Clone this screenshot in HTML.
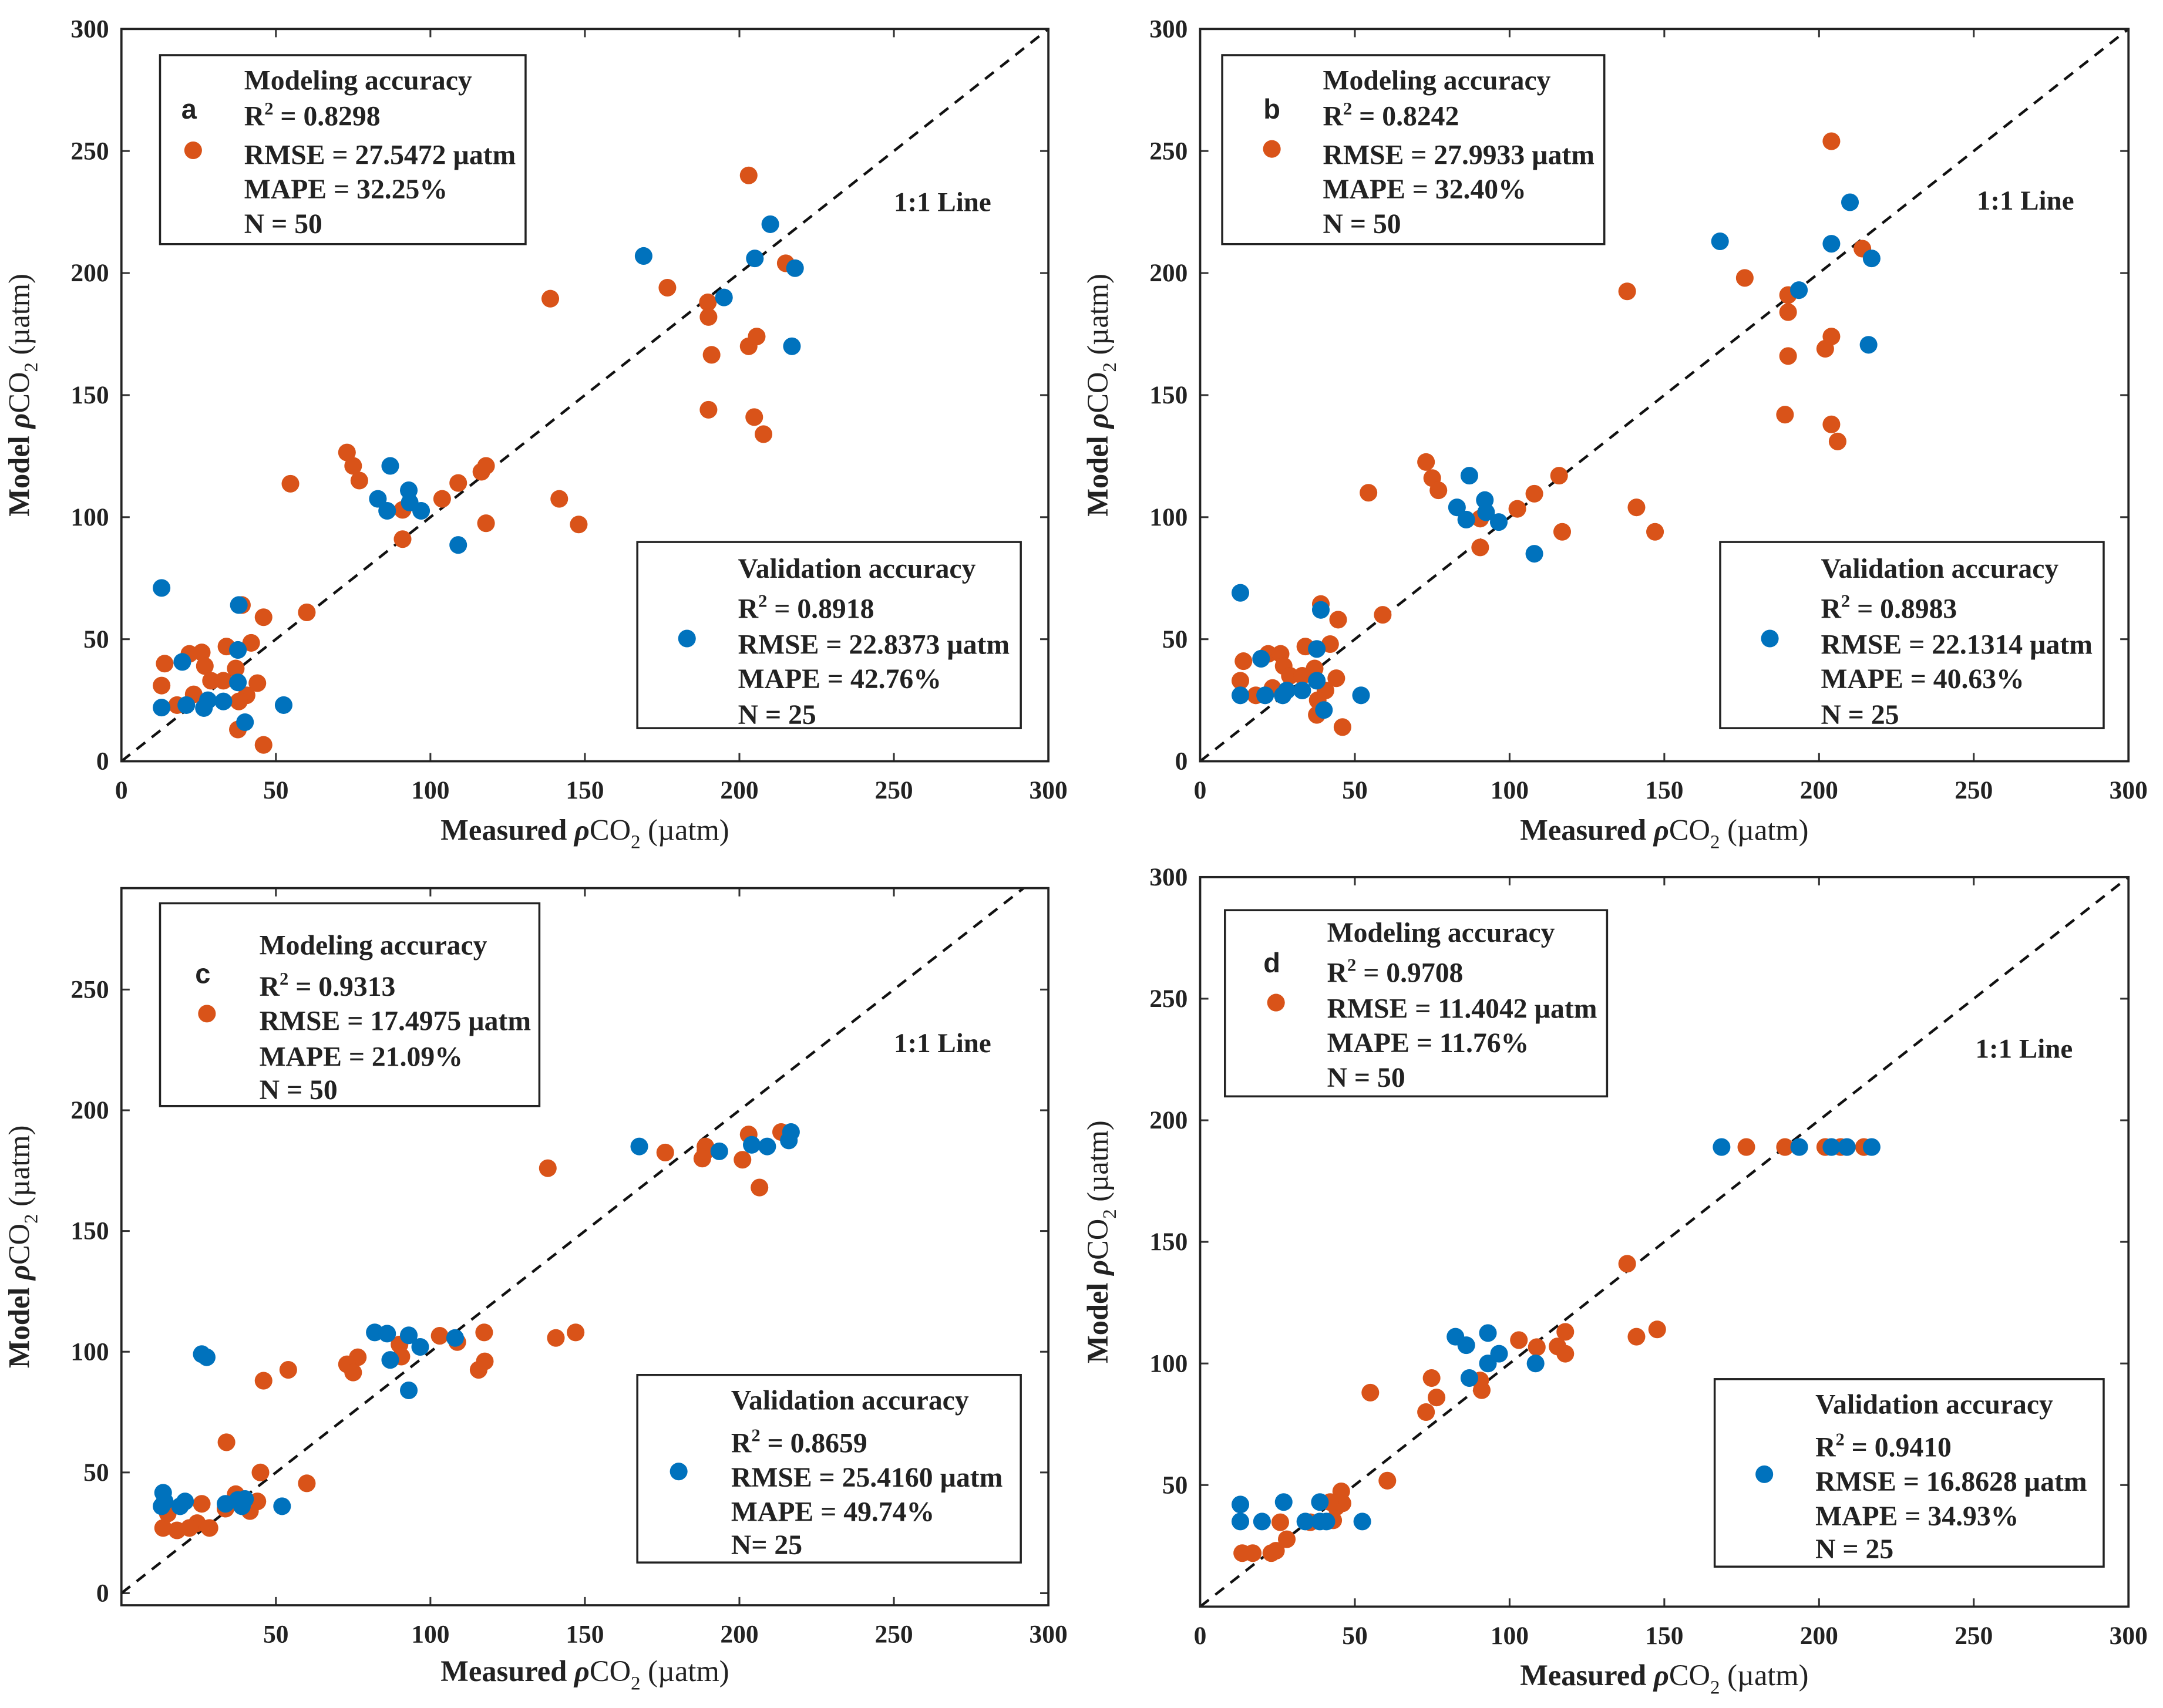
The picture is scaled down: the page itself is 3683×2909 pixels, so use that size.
<!DOCTYPE html>
<html><head><meta charset="utf-8"><style>
html,body{margin:0;padding:0;background:#fff}
svg{display:block}
text{font-family:"Liberation Serif",serif;font-weight:bold;fill:#222}
</style></head><body>
<svg id="fig" width="3683" height="2909" viewBox="0 0 1568 1238.5" xmlns="http://www.w3.org/2000/svg"></svg>
<script>
// ---- Data (Measured, Model) per panel ----
const aModX=[203,215,176.7,138.8,189.8,190,191,203,205.6,190,204.8,207.8,73,75,77,54.7,116.5,118,109,103.8,141.7,148,118,91,91,60,46,39,14,13,22,26,27,29,34,37,42,44,40.5,38,37.7,46,18,23.4,33];
const aModY=[240,204,194,189.5,188,182,166.5,170,174,144,141,134,126.5,121,115,113.7,118.6,121,114,107.5,107.5,97,97.5,103,91,61,59,64,40,31,44,44.6,39,33,47,38,48.5,32,27,24.5,13,6.7,23,27.4,33];
const aValX=[210,169,205,218,195,217,87,83,86,93,93.3,97,109,13,38,19.7,37.7,37.7,13,21,26.7,28,33,40,52.5];
const aValY=[220,207,206,202,190,170,121,107.5,102.6,111,106,102.6,88.6,71,64,40.7,45.6,32.3,22,23,21.8,25,24.5,16,23];

const bModX=[204,214,176,138,190,190,190,202,204,189,204,206,73,75,77,54.4,116,108,102.5,141,147,117,90.5,90.5,59,44.6,39,14,13,22,26,27,29,34,37,42,44,40.5,38,37.7,46,18,23.4,33];
const bModY=[254,210,198,192.5,191,184,166,169,174,142,138,131,122.6,116,111,110,117,109.6,103.4,104,94,94,99.4,87.6,60,58,64.4,41,33,44,44,39,35,47,38,48,34,29,25,19,14,27,30,35];
const bValX=[210,168,204,217,193.5,216,87,83,86,92,92.4,96.5,108,13,39,19.7,37.7,37.7,13,21,26.7,28,33,40,52];
const bValY=[229,213,212,206,193,170.6,117,104,99,107,102,98,85,69,62,42,46,33,27,27,27,29,29,21,27];

const cModX=[213.5,203,176,138,189,189,188,201,206.5,117.4,147,140.6,103,108.7,117.6,115.6,90,90.6,76.5,73,75,54,46,34,45,60,37,44,39,41.6,26,24.5,28.5,22,18,13.5,15,33.7];
const cModY=[191,190,182.5,176,185,183,180,179.5,168,108,108,105.7,106.6,104,96,92.5,103,98,97.7,94.8,91.4,92.5,88,62.5,50,45.5,41,38,38,34,37,29,27,27,26,27,33,35];
const cValX=[216.7,216,209,204,167.6,193.5,82,86,93,96.7,108,87,93,26,27.6,13.5,13,20.6,19,33.7,37.6,39,52,40,14];
const cValY=[191,187.5,185,185.7,185,183,108,107.5,106.8,102,105.7,96.6,84,99,97.7,41.6,36,38,36,37,38.6,36,36,39,38];

const dModX=[13.6,17,23,24.5,28,25.9,35.6,43,44,46,45.6,42,60.5,55,73,74.8,76.4,91,90.5,103,108.8,115.5,118,118,138,141,147.7,176.5,189,202,207,214.5];
const dModY=[22,22,22,23,27.7,34.7,34.7,35.5,41,42.5,47.4,43,51.8,88,80,94,86,89,93,109.6,106.7,107,113,104,141,111,114,189,189,189,189,189];
const dValX=[13,13,20,27,34,38.7,38.7,40.8,52.4,82.5,86,93,87,93,96.6,108.4,168.5,193.6,204,209,217];
const dValY=[42,35,35,43,35,43,35,35,35,111,107.5,112.5,94,100,104,100,189,189,189,189,189];

const xTickLabels=["0","50","100","150","200","250","300"];
const xTickValsC=[50,100,150,200,250,300];
const yTickValsAB=[0,50,100,150,200,250,300];
const yTickValsC=[0,50,100,150,200,250];
const yTickValsD=[50,100,150,200,250,300];

const NS="http://www.w3.org/2000/svg";
const svg=document.getElementById('fig');
function mk(tag,attrs,parent){const e=document.createElementNS(NS,tag);for(const k in attrs)e.setAttribute(k,attrs[k]);(parent||svg).appendChild(e);return e;}
const ORANGE="#d95319", BLUE="#0072bd";

const panels=[
 {id:'a',L:88,R:760,T:21,B:552,x0:0,x1:300,y0:0,y1:300,xt:[0,50,100,150,200,250,300],yt:yTickValsAB,
  mx:aModX,my:aModY,vx:aValX,vy:aValY,
  mb:[116,40,381,177],mt:177,ml:[58,84,112,137,162],lab:[137,80],mm:[140,109],
  vb:[462,393,740,528],vt:535,vl:[412,441,467,492,518],vm:[498,463],one:[648,146],
  txt:["Modeling accuracy","0.8298","RMSE = 27.5472 µatm","MAPE = 32.25%","N = 50"],
  vtxt:["Validation accuracy","0.8918","RMSE = 22.8373 µatm","MAPE = 42.76%","N = 25"],xl:602},
 {id:'b',L:870,R:1543,T:21,B:552,x0:0,x1:300,y0:0,y1:300,xt:[0,50,100,150,200,250,300],yt:yTickValsAB,
  mx:bModX,my:bModY,vx:bValX,vy:bValY,
  mb:[886,40,1163,177],mt:959,ml:[58,84,112,137,162],lab:[922,80],mm:[922,108],
  vb:[1247,393,1525,528],vt:1320,vl:[412,441,467,492,518],vm:[1283,463],one:[1433,145],
  txt:["Modeling accuracy","0.8242","RMSE = 27.9933 µatm","MAPE = 32.40%","N = 50"],
  vtxt:["Validation accuracy","0.8983","RMSE = 22.1314 µatm","MAPE = 40.63%","N = 25"],xl:602},
 {id:'c',L:88,R:760,T:644,B:1164,x0:0,x1:300,y0:-5,y1:292,xt:xTickValsC,yt:yTickValsC,
  mx:cModX,my:cModY,vx:cValX,vy:cValY,
  mb:[116,655,391,802],mt:188,ml:[685,715,740,766,790],lab:[147,707],mm:[150,735],
  vb:[462,997,740,1133],vt:530,vl:[1015,1046,1071,1096,1120],vm:[492,1067],one:[648,756],
  txt:["Modeling accuracy","0.9313","RMSE = 17.4975 µatm","MAPE = 21.09%","N = 50"],
  vtxt:["Validation accuracy","0.8659","RMSE = 25.4160 µatm","MAPE = 49.74%","N= 25"],xl:1212},
 {id:'d',L:870,R:1543,T:636,B:1165,x0:0,x1:300,y0:0,y1:300,xt:[0,50,100,150,200,250,300],yt:yTickValsD,
  mx:dModX,my:dModY,vx:dValX,vy:dValY,
  mb:[888,660,1165,795],mt:962,ml:[676,705,731,756,781],lab:[922,699],mm:[925,727],
  vb:[1243,1000,1525,1136],vt:1316,vl:[1018,1049,1074,1099,1123],vm:[1279,1069],one:[1432,760],
  txt:["Modeling accuracy","0.9708","RMSE = 11.4042 µatm","MAPE = 11.76%","N = 50"],
  vtxt:["Validation accuracy","0.9410","RMSE = 16.8628 µatm","MAPE = 34.93%","N = 25"],xl:1215}
];

function lines(g,x,ys,t,prefix){
  ys.forEach((y,i)=>{
    const tx=mk('text',{x:x,y:y+7,'font-size':20.3},g);
    if(i===1){tx.innerHTML='R<tspan dy="-8" font-size="13">2</tspan><tspan dy="8"> = '+t[1]+'</tspan>';}
    else tx.textContent=t[i];
    
    
  });
}

panels.forEach(p=>{
  const g=mk('g',{});
  
  
  const sx=v=>p.L+(v-p.x0)/(p.x1-p.x0)*(p.R-p.L);
  const sy=v=>p.B-(v-p.y0)/(p.y1-p.y0)*(p.B-p.T);
  const clip=mk('clipPath',{id:'clip'+p.id},g);
  mk('rect',{x:p.L,y:p.T,width:p.R-p.L,height:p.B-p.T},clip);
  p.xt.forEach((v,i)=>{
    const x=sx(v);
    mk('line',{x1:x,y1:p.B,x2:x,y2:p.B-6,stroke:'#333','stroke-width':1.3},g);
    mk('line',{x1:x,y1:p.T,x2:x,y2:p.T+6,stroke:'#333','stroke-width':1.3},g);
    const t=mk('text',{x:x,y:p.B+27,'text-anchor':'middle','font-size':18.5},g);
    t.textContent=String(v);
    
    
  });
  p.yt.forEach(v=>{
    const y=sy(v);
    mk('line',{x1:p.L,y1:y,x2:p.L+6,y2:y,stroke:'#333','stroke-width':1.3},g);
    mk('line',{x1:p.R,y1:y,x2:p.R-6,y2:y,stroke:'#333','stroke-width':1.3},g);
    const t=mk('text',{x:p.L-9,y:y+6,'text-anchor':'end','font-size':18.5},g);
    t.textContent=String(v);
    
    
  });
  const d=mk('line',{x1:sx(0),y1:sy(0),x2:sx(300),y2:sy(300),stroke:'#111','stroke-width':1.9,'stroke-dasharray':'8,6','clip-path':'url(#clip'+p.id+')'},g);
  
  
  p.mx.forEach((v,i)=>{
    const c=mk('circle',{cx:sx(v),cy:sy(p.my[i]),r:6.4,fill:ORANGE},g);
    
    
  });
  p.vx.forEach((v,i)=>{
    const c=mk('circle',{cx:sx(v),cy:sy(p.vy[i]),r:6.4,fill:BLUE},g);
    
    
  });
  const fr=mk('rect',{x:p.L,y:p.T,width:p.R-p.L,height:p.B-p.T,fill:'none',stroke:'#222','stroke-width':1.6},g);
  
  
  const lg=mk('g',{},g);
  
  
  mk('rect',{x:p.mb[0],y:p.mb[1],width:p.mb[2]-p.mb[0],height:p.mb[3]-p.mb[1],fill:'#fff',stroke:'#222','stroke-width':1.5},lg);
  mk('circle',{cx:p.mm[0],cy:p.mm[1],r:6.4,fill:ORANGE},lg);
  lines(lg,p.mt,p.ml,p.txt,'modeling');
  const pl=mk('text',{x:p.lab[0],y:p.lab[1]+6,'font-size':20,'text-anchor':'middle',style:'font-family:"Liberation Sans",sans-serif;font-weight:bold',fill:'#000'},lg);
  pl.textContent=p.id;
  
  
  const vg=mk('g',{},g);
  
  
  mk('rect',{x:p.vb[0],y:p.vb[1],width:p.vb[2]-p.vb[0],height:p.vb[3]-p.vb[1],fill:'#fff',stroke:'#222','stroke-width':1.5},vg);
  mk('circle',{cx:p.vm[0],cy:p.vm[1],r:6.4,fill:BLUE},vg);
  lines(vg,p.vt,p.vl,p.vtxt,'validation');
  const one=mk('text',{x:p.one[0],y:p.one[1]+7,'font-size':20},g);
  one.textContent='1:1 Line';
  
  
  const xt=mk('text',{x:(p.L+p.R)/2,y:p.xl+7,'font-size':21.5,'text-anchor':'middle'},g);
  xt.innerHTML='Measured <tspan font-style="italic">ρ</tspan><tspan font-weight="normal">CO</tspan><tspan dy="6" font-size="14" font-weight="normal">2</tspan><tspan dy="-6" font-weight="normal"> (µatm)</tspan>';
  
  
  const cy=(p.T+p.B)/2, cx=p.L-67;
  const yt=mk('text',{x:cx,y:cy,'font-size':21.5,'text-anchor':'middle',transform:'rotate(-90 '+cx+' '+cy+')'},g);
  yt.innerHTML='Model <tspan font-style="italic">ρ</tspan><tspan font-weight="normal">CO</tspan><tspan dy="6" font-size="14" font-weight="normal">2</tspan><tspan dy="-6" font-weight="normal"> (µatm)</tspan>';
  
  
});
</script>
</body></html>
